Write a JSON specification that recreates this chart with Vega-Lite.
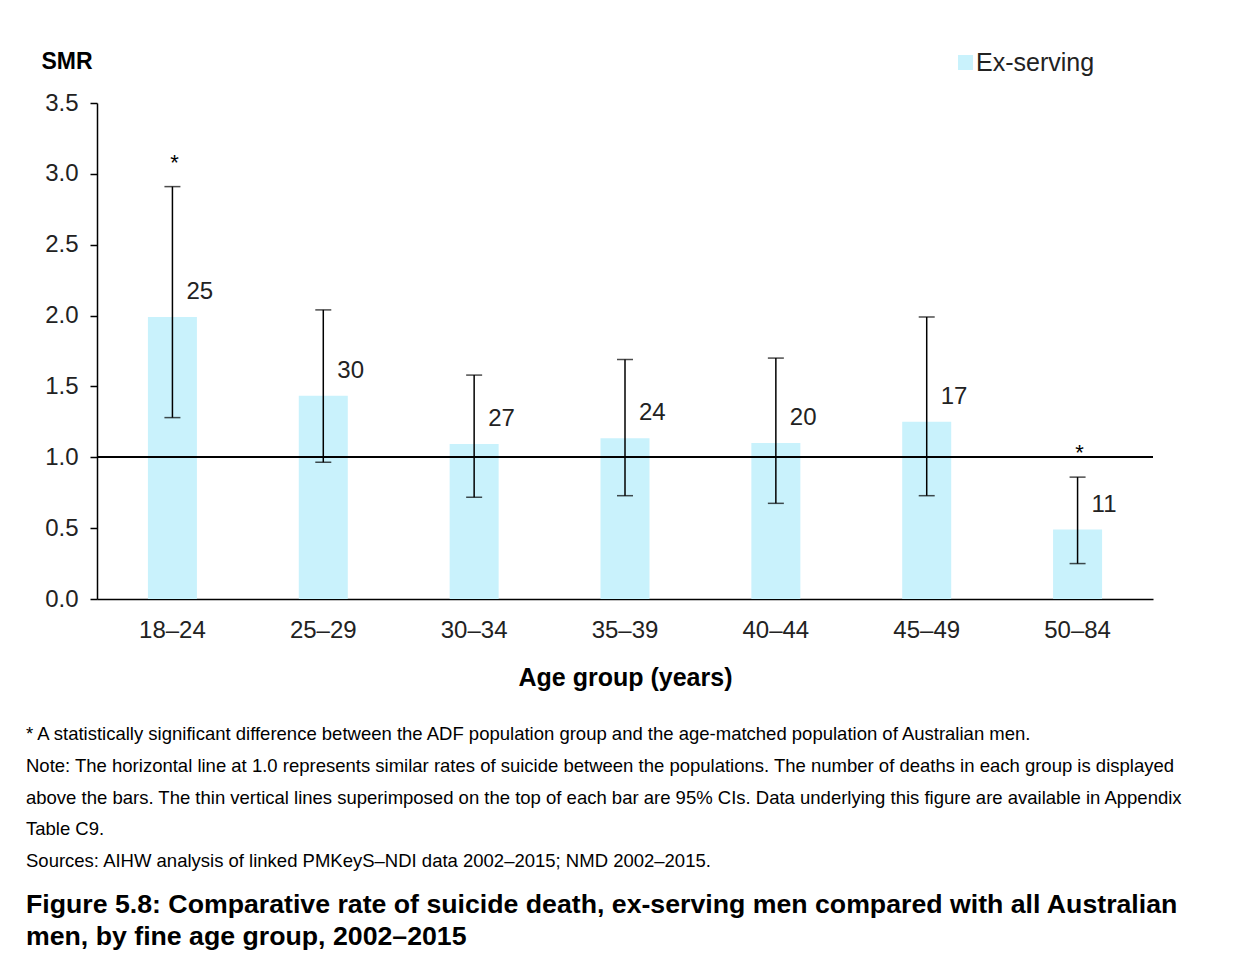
{
  "$schema": "https://vega.github.io/schema/vega-lite/v6.json",
  "autosize": {"type": "none"},
  "width": 1056,
  "height": 496,
  "padding": {"left": 97, "top": 103, "right": 94, "bottom": 354},
  "background": "white",
  "config": {
    "font": "Liberation Sans",
    "view": {"stroke": null}
  },
  "title": {
    "text": ["* A statistically significant difference between the ADF population group and the age-matched population of Australian men.", "Note: The horizontal line at 1.0 represents similar rates of suicide between the populations. The number of deaths in each group is displayed", "above the bars. The thin vertical lines superimposed on the top of each bar are 95% CIs. Data underlying this figure are available in Appendix", "Table C9.", "Sources: AIHW analysis of linked PMKeyS–NDI data 2002–2015; NMD 2002–2015."],
    "subtitle": ["Figure 5.8: Comparative rate of suicide death, ex-serving men compared with all Australian", "men, by fine age group, 2002–2015"],
    "orient": "bottom",
    "anchor": "start",
    "frame": "group",
    "dx": -71,
    "offset": 35,
    "font": "Liberation Sans",
    "fontSize": 18.5,
    "fontWeight": "normal",
    "color": "#000000",
    "lineHeight": 31.75,
    "subtitleFont": "Liberation Sans",
    "subtitleFontSize": 26.7,
    "subtitleFontWeight": "bold",
    "subtitleColor": "#000000",
    "subtitleLineHeight": 32,
    "subtitlePadding": 21
  },
  "data": {
    "values": [
      {"age": "18–24", "smr": 1.99, "lo": 1.28, "hi": 2.91, "deaths": 25, "sig": "*", "series": "Ex-serving"},
      {"age": "25–29", "smr": 1.435, "lo": 0.965, "hi": 2.04, "deaths": 30, "sig": "", "series": "Ex-serving"},
      {"age": "30–34", "smr": 1.094, "lo": 0.718, "hi": 1.58, "deaths": 27, "sig": "", "series": "Ex-serving"},
      {"age": "35–39", "smr": 1.134, "lo": 0.729, "hi": 1.69, "deaths": 24, "sig": "", "series": "Ex-serving"},
      {"age": "40–44", "smr": 1.10, "lo": 0.675, "hi": 1.70, "deaths": 20, "sig": "", "series": "Ex-serving"},
      {"age": "45–49", "smr": 1.251, "lo": 0.729, "hi": 1.99, "deaths": 17, "sig": "", "series": "Ex-serving"},
      {"age": "50–84", "smr": 0.49, "lo": 0.25, "hi": 0.86, "deaths": 11, "sig": "*", "series": "Ex-serving"}
    ]
  },
  "layer": [
    {
      "mark": {"type": "bar", "width": 49},
      "encoding": {
        "x": {
          "field": "age",
          "type": "nominal",
          "sort": null,
          "scale": {"paddingInner": 0, "paddingOuter": 0},
          "axis": {
            "title": "Age group (years)",
            "labelAngle": 0,
            "labelFont": "Liberation Sans",
            "labelFontSize": 24,
            "labelColor": "#222222",
            "labelPadding": 19,
            "ticks": false,
            "tickSize": 0,
            "domainColor": "#000000",
            "domainWidth": 1.5,
            "titleFont": "Liberation Sans",
            "titleFontSize": 25,
            "titleFontWeight": "bold",
            "titleColor": "#000000",
            "titlePadding": 23
          }
        },
        "y": {
          "field": "smr",
          "type": "quantitative",
          "scale": {"domain": [0, 3.5], "nice": false},
          "axis": {
            "title": "SMR",
            "titleAngle": 0,
            "titleAlign": "left",
            "titleBaseline": "alphabetic",
            "titleX": -56,
            "titleY": -35,
            "titleFont": "Liberation Sans",
            "titleFontSize": 23,
            "titleFontWeight": "bold",
            "titleColor": "#000000",
            "values": [0, 0.5, 1, 1.5, 2, 2.5, 3, 3.5],
            "format": ".1f",
            "grid": false,
            "tickSize": 7,
            "tickColor": "#000000",
            "tickWidth": 1.5,
            "domainColor": "#000000",
            "domainWidth": 1.5,
            "labelFont": "Liberation Sans",
            "labelFontSize": 24,
            "labelColor": "#222222",
            "labelPadding": 12
          }
        },
        "color": {
          "field": "series",
          "type": "nominal",
          "scale": {"range": ["#c9f2fc"]},
          "legend": {
            "title": null,
            "orient": "none",
            "legendX": 856,
            "legendY": -53,
            "symbolType": "square",
            "symbolSize": 225,
            "symbolStrokeWidth": 0,
            "labelFont": "Liberation Sans",
            "labelFontSize": 25,
            "labelColor": "#222222",
            "labelOffset": -2
          }
        }
      }
    },
    {
      "mark": {"type": "rule", "color": "#000000", "strokeWidth": 1.5},
      "encoding": {"y": {"datum": 1, "type": "quantitative"}}
    },
    {
      "mark": {"type": "rule", "color": "#000000", "strokeWidth": 1.5},
      "encoding": {
        "x": {"field": "age", "type": "nominal", "sort": null},
        "y": {"field": "lo", "type": "quantitative"},
        "y2": {"field": "hi"}
      }
    },
    {
      "mark": {"type": "tick", "color": "#000000", "size": 16, "thickness": 1.5, "orient": "horizontal"},
      "encoding": {
        "x": {"field": "age", "type": "nominal", "sort": null},
        "y": {"field": "lo", "type": "quantitative"}
      }
    },
    {
      "mark": {"type": "tick", "color": "#000000", "size": 16, "thickness": 1.5, "orient": "horizontal"},
      "encoding": {
        "x": {"field": "age", "type": "nominal", "sort": null},
        "y": {"field": "hi", "type": "quantitative"}
      }
    },
    {
      "mark": {"type": "text", "align": "left", "baseline": "middle", "dx": 14, "dy": -25, "fontSize": 24, "font": "Liberation Sans", "color": "#222222"},
      "encoding": {
        "x": {"field": "age", "type": "nominal", "sort": null},
        "y": {"field": "smr", "type": "quantitative"},
        "text": {"field": "deaths", "type": "quantitative"}
      }
    },
    {
      "mark": {"type": "text", "align": "center", "baseline": "middle", "dx": 2, "dy": -24, "fontSize": 22, "font": "Liberation Sans", "color": "#000000"},
      "encoding": {
        "x": {"field": "age", "type": "nominal", "sort": null},
        "y": {"field": "hi", "type": "quantitative"},
        "text": {"field": "sig", "type": "nominal"}
      }
    }
  ]
}
